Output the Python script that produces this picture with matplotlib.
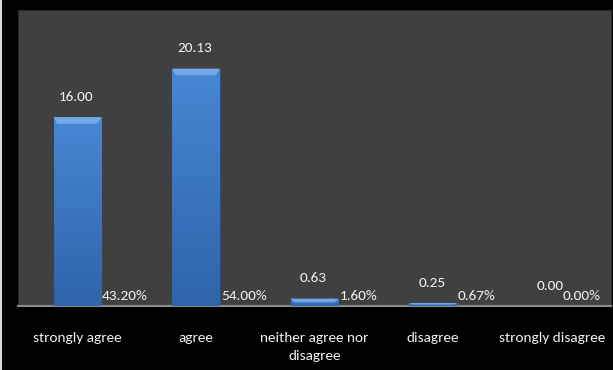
import numpy as np
import matplotlib.pyplot as plt
from matplotlib.patches import Polygon
from matplotlib.colors import LinearSegmentedColormap

categories = ['strongly agree', 'agree', 'neither agree nor\ndisagree', 'disagree', 'strongly disagree']
means = [16.00, 20.13, 0.63, 0.25, 0.00]
percents = [43.20, 54.00, 1.60, 0.67, 0.00]

plt.rcParams['font.family'] = ['Carlito', 'Archivo Narrow', 'DejaVu Sans']
txt = '#f2f2f2'

fig = plt.figure(figsize=(6.13, 3.70), dpi=100, facecolor='black')
ax = fig.add_axes([0.0294, 0.173, 0.9673, 0.80])
ax.set_facecolor('#404040')

x = np.arange(len(categories))
w = 0.40
bars = ax.bar(x, means, width=w, color='#3b78c8', edgecolor='#24508a', linewidth=0.8, zorder=2)

# vertical gradient on each bar
cmap = LinearSegmentedColormap.from_list('g', ['#2f64aa', '#4787d4'])
grad = np.linspace(0, 1, 100).reshape(-1, 1)
for b in bars:
    h = b.get_height()
    if h <= 0:
        continue
    x0 = b.get_x()
    im = ax.imshow(grad, cmap=cmap, extent=[x0, x0 + w, 0, h],
                   origin='lower', aspect='auto', zorder=3)
    im.set_clip_path(b)
    # light bevel along the top
    bev = min(0.55, h * 0.5)
    ax.add_patch(Polygon([(x0, h), (x0 + w, h), (x0 + w - 0.03, h - bev), (x0 + 0.03, h - bev)],
                         closed=True, facecolor='#7aaceb', edgecolor='none', alpha=0.9, zorder=4))

for i, (m, p) in enumerate(zip(means, percents)):
    ax.text(x[i] - 0.01, m + 1.2, f'{m:.2f}', ha='center', va='bottom', color=txt, fontsize=11)
    px = x[i] + w / 2 + 0.01
    if i == len(categories) - 1:
        px = x[i] + 0.09
    ax.text(px, 0.3, f'{p:.2f}%', ha='left', va='bottom', color=txt, fontsize=11)

ax.set_xlim(-0.5, len(categories) - 0.5)
ax.set_ylim(0, 25.1)
ax.set_xticks(x)
ax.set_xticklabels(categories, color=txt, fontsize=11, linespacing=1.6)
ax.tick_params(axis='x', length=0, pad=19)
ax.set_yticks([])
for s in ['top', 'right', 'left']:
    ax.spines[s].set_color('#2a2a2a')
    ax.spines[s].set_linewidth(0.8)
ax.spines['bottom'].set_color('#8c8c8c')
ax.spines['bottom'].set_linewidth(1.5)

# faint cut-off axis at the left edge
lax = fig.add_axes([0.0, 0.0, 0.004, 1.0])
lax.set_facecolor('#d8d8d8')
lax.set_xticks([])
lax.set_yticks([])
for s in lax.spines.values():
    s.set_visible(False)

fig.savefig('out.png', dpi=100, facecolor='black')
